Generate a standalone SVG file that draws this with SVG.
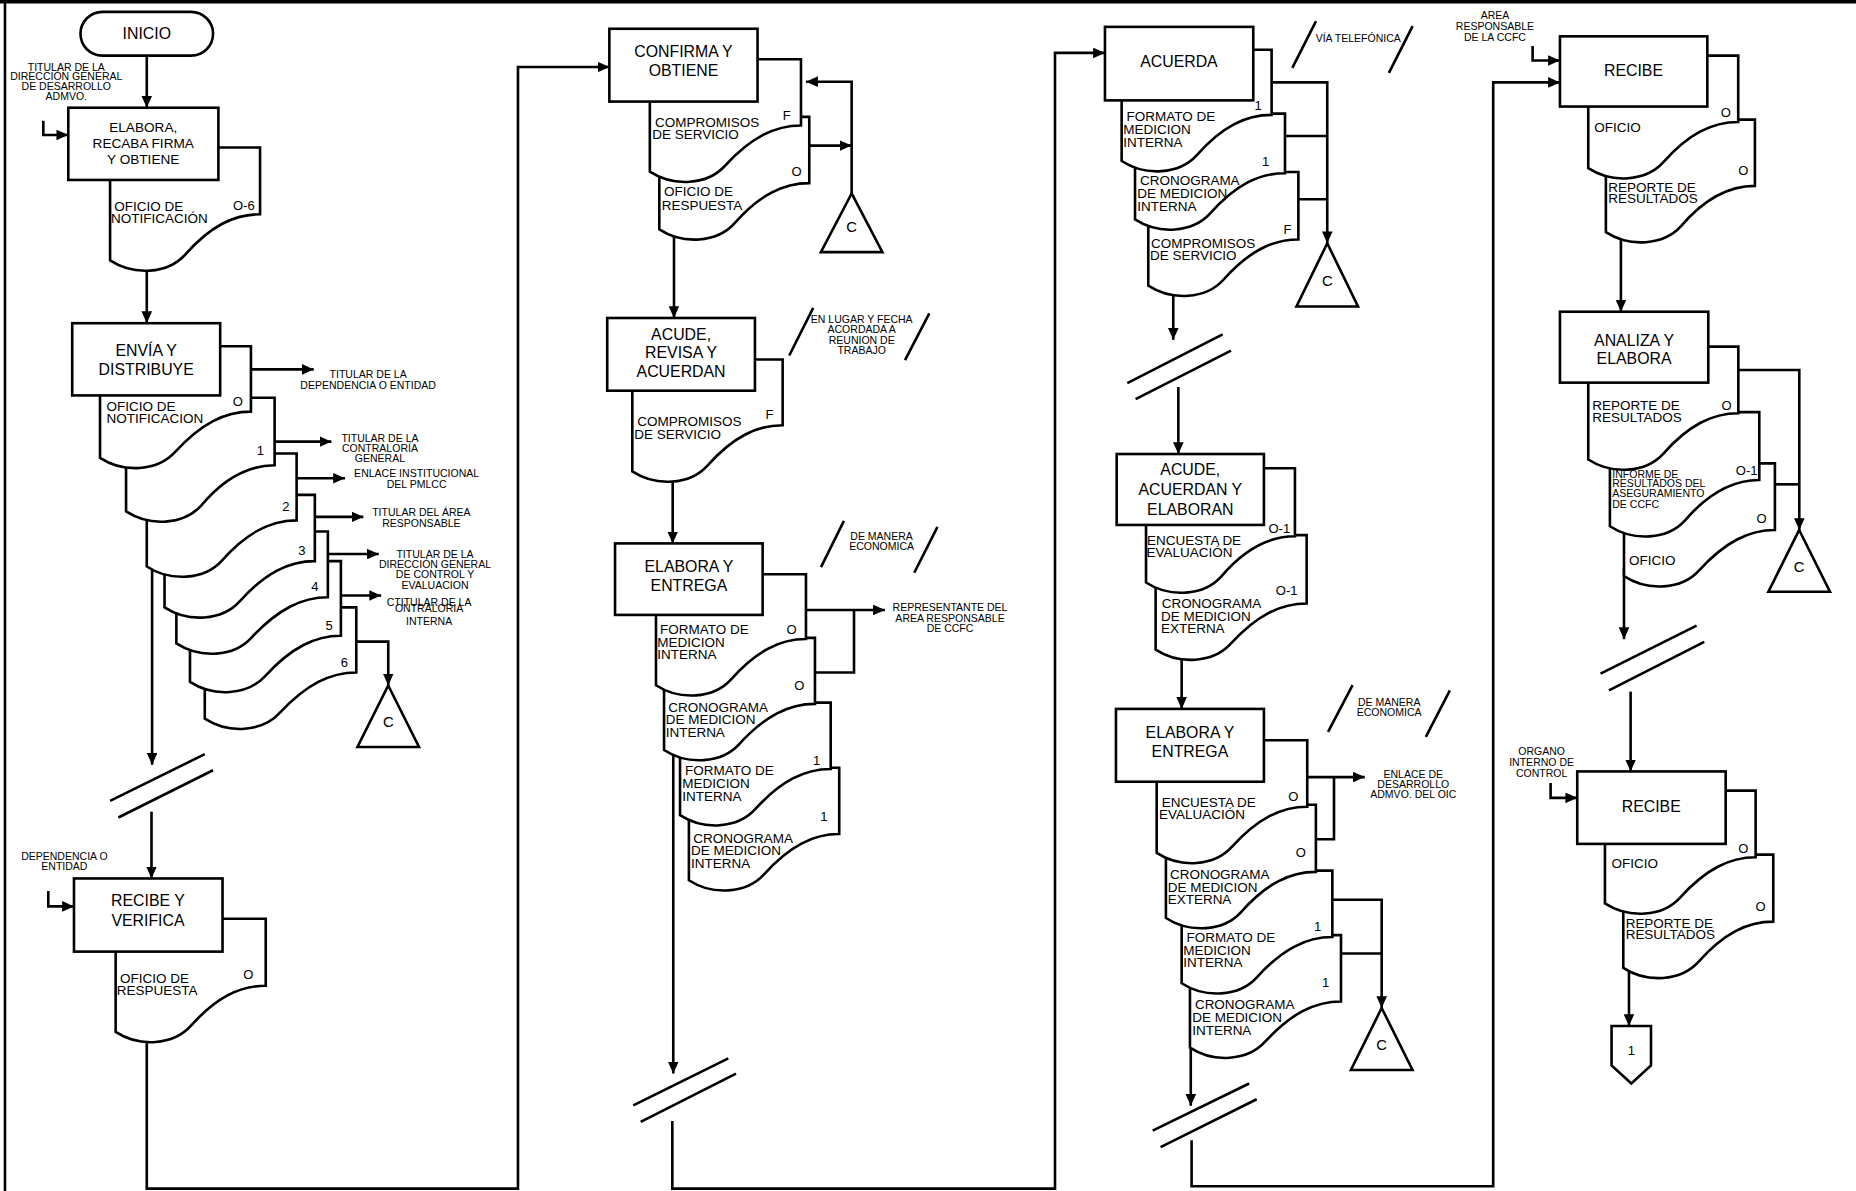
<svg xmlns="http://www.w3.org/2000/svg" width="1856" height="1191" viewBox="0 0 1856 1191">
<defs>
<style>
.ln{fill:none;stroke:#000;stroke-width:2.2}
.ar{marker-end:url(#ah)}
.bx{fill:#fff;stroke:#000;stroke-width:2.2}
.dc{fill:#fff;stroke:#000;stroke-width:2.2}
.tr{fill:#fff;stroke:#000;stroke-width:2.2}
text{font-family:"Liberation Sans",Arial,Helvetica,sans-serif;fill:#000}
.t{font-size:13.4px;text-anchor:middle}
.t2{font-size:11.5px;text-anchor:middle}
.d{font-size:11.4px}
.m{font-size:11px;text-anchor:middle}
.s{font-size:8.9px;text-anchor:middle}
.s2{font-size:8.9px}
.c{font-size:12.5px;text-anchor:middle}
</style>
<marker id="ah" viewBox="0 0 10 9" refX="10" refY="4.5" markerWidth="10" markerHeight="9" orient="auto" markerUnits="userSpaceOnUse"><path d="M0,0 L10,4.5 L0,9 z" fill="#000"/></marker>
</defs>
<rect width="1856" height="1191" fill="#fff"/>
<g transform="scale(1.18367,1.1839)">
<g id="frame">
<path class="ln" d="M0,1.5 H1568" style="stroke-width:3"/>
<path class="ln" d="M4.2,0 V1006"/>
</g>
<g id="connectors">
<path class="ln ar" d="M124,47 V91"/>
<path class="ln ar" d="M36.6,102 V114 H57.7"/>
<path class="ln ar" d="M124,222 V273"/>
<path class="ln ar" d="M212,312 H265"/>
<path class="ln ar" d="M232,373 H280"/>
<path class="ln ar" d="M250.6,404 H291.5"/>
<path class="ln ar" d="M266,436.6 H307"/>
<path class="ln ar" d="M277,468 H320"/>
<path class="ln ar" d="M288,503 H322"/>
<path class="ln ar" d="M301,542 H328 V579"/>
<path class="ln ar" d="M128.5,380 V646"/>
<path class="ln" d="M93,676.5 L173,637 M100,690.5 L180,650.6"/>
<path class="ln ar" d="M128,685.6 V742"/>
<path class="ln ar" d="M40.8,752.6 V765.6 H62.5"/>
<path class="ln ar" d="M124,865 V1004 H437.6 V56.6 H514.8"/>
<path class="ln ar" d="M683.7,123 H719.5"/>
<path class="ln ar" d="M719.5,163.4 V69 H681"/>
<path class="ln ar" d="M569.4,190 V268.6"/>
<path class="ln ar" d="M568.3,400 V459"/>
<path class="ln ar" d="M680.9,515.2 H747.6"/>
<path class="ln" d="M688.5,568 H721.5 V515.2"/>
<path class="ln ar" d="M568.8,630 V906.8"/>
<path class="ln" d="M535,933.7 L615.3,894 M541.3,947.6 L621.8,906.8"/>
<path class="ln ar" d="M568,946.8 V1004 H891.3 V44.7 H933.5"/>
<path class="ln ar" d="M1074.3,69.6 H1121.3 V205.5"/>
<path class="ln" d="M1085.6,114.9 H1121.3 M1096.9,168.3 H1121.3"/>
<path class="ln ar" d="M991.2,240 V287"/>
<path class="ln" d="M952.4,323.6 L1032.9,282.5 M959.4,337.2 L1040,296.1"/>
<path class="ln ar" d="M995.5,326.9 V383.5"/>
<path class="ln ar" d="M998.3,545 V598.8"/>
<path class="ln ar" d="M1104.4,656.4 H1153"/>
<path class="ln" d="M1111.7,708.9 H1127 V656.4"/>
<path class="ln ar" d="M1125.6,760 H1167.3 V851.4"/>
<path class="ln" d="M1132.9,805.4 H1167.3"/>
<path class="ln ar" d="M1006,880 V934"/>
<path class="ln" d="M973.8,955 L1055.3,915.2 M980.5,968.9 L1061.7,928.5"/>
<path class="ln ar" d="M1006.7,963.1 V1002 H1261.5 V69.6 H1317.9"/>
<path class="ln ar" d="M1294.8,38.8 V51.1 H1317.9"/>
<path class="ln ar" d="M1369.4,190 V263.3"/>
<path class="ln ar" d="M1468.6,312.5 H1520.1 V447.7"/>
<path class="ln" d="M1499.5,409.1 H1520.1"/>
<path class="ln ar" d="M1372,480 V539.9"/>
<path class="ln" d="M1352.2,569 L1433.3,528.5 M1359.3,583.2 L1439.8,542.1"/>
<path class="ln ar" d="M1377.6,584.2 V651.6"/>
<path class="ln ar" d="M1310,661.3 V673.9 H1332.5"/>
<path class="ln ar" d="M1376.2,810 V866.6"/>
</g>
<g id="inicio">
<rect class="bx" x="68" y="10" width="112" height="37" rx="18.5"/>
<text class="t" x="124" y="32.8">INICIO</text>
</g>
<g id="lbl-titular-dgda">
<text class="s" x="56" y="59.6">TITULAR DE LA</text>
<text class="s" x="56" y="67.7">DIRECCIÓN GENERAL</text>
<text class="s" x="56" y="75.9">DE DESARROLLO</text>
<text class="s" x="56" y="84.6">ADMVO.</text>
</g>
<g id="elabora-recaba">
<path class="dc" d="M93,124.6H219.7V181C197.7,181 177.7,191 156.5,215C141.5,231.5 113,233 93,220Z"/>
<rect class="bx" x="57.7" y="91" width="126.8" height="61"/>
<text class="t2" x="121" y="111.6">ELABORA,</text>
<text class="t2" x="121" y="125.1">RECABA FIRMA</text>
<text class="t2" x="121" y="138.6">Y OBTIENE</text>
<text class="m" x="206" y="177">O-6</text>
<text class="d" x="96.6" y="178.1">OFICIO DE</text>
<text class="d" x="93.8" y="188.1">NOTIFICACIÓN</text>
</g>
<g id="envia-distribuye">
<path class="dc" d="M173,513H301V568C279,568 259,578 236.5,602C221.5,618.5 193,620 173,607Z"/>
<path class="dc" d="M160.5,474H288V537C266,537 246,547 224,571C209,587.5 180.5,589 160.5,576Z"/>
<path class="dc" d="M149,449H277V504.5C255,504.5 235,514.5 212.5,538.5C197.5,555 169,556.5 149,543.5Z"/>
<path class="dc" d="M139,418H266V474C244,474 224,484 202.5,508C187.5,524.5 159,526 139,513Z"/>
<path class="dc" d="M124,383H250.6V439.5C228.6,439.5 208.6,449.5 187.5,473.5C172.5,490 144,491.5 124,478.5Z"/>
<path class="dc" d="M106.5,336H232V393C210,393 190,403 170,427C155,443.5 126.5,445 106.5,432Z"/>
<path class="dc" d="M84.5,292.5H212V347.7C190,347.7 170,357.7 148,381.7C133,398.2 104.5,399.7 84.5,386.7Z"/>
<rect class="bx" x="61" y="273" width="125" height="61"/>
<text class="t" x="123.5" y="300.8">ENVÍA Y</text>
<text class="t" x="123.5" y="316.8">DISTRIBUYE</text>
<text class="m" x="201" y="343">O</text>
<text class="d" x="90" y="347.1">OFICIO DE</text>
<text class="d" x="90" y="357.1">NOTIFICACION</text>
<text class="m" x="220" y="384">1</text>
<text class="m" x="241.6" y="432">2</text>
<text class="m" x="255" y="469">3</text>
<text class="m" x="266" y="499">4</text>
<text class="m" x="278" y="532">5</text>
<text class="m" x="291" y="563">6</text>
</g>
<g id="lbl-destinos">
<text class="s" x="311" y="319.2">TITULAR DE LA</text>
<text class="s" x="311" y="328.2">DEPENDENCIA O ENTIDAD</text>
<text class="s" x="321" y="373.2">TITULAR DE LA</text>
<text class="s" x="321" y="381.8">CONTRALORÍA</text>
<text class="s" x="321" y="390.2">GENERAL</text>
<text class="s" x="352" y="403.2">ENLACE INSTITUCIONAL</text>
<text class="s" x="352" y="412.2">DEL PMLCC</text>
<text class="s" x="356" y="436.2">TITULAR DEL ÁREA</text>
<text class="s" x="356" y="445.2">RESPONSABLE</text>
<text class="s" x="367.5" y="471.2">TITULAR DE LA</text>
<text class="s" x="367.5" y="479.8">DIRECCIÓN GENERAL</text>
<text class="s" x="367.5" y="488.2">DE CONTROL Y</text>
<text class="s" x="367.5" y="497.2">EVALUACION</text>
<text class="s" x="362.5" y="512">CTITULAR DE LA</text>
<text class="s" x="362.5" y="517.2">ONTRALORIA</text>
<text class="s" x="362.5" y="527.7">INTERNA</text>
</g>
<g id="archivo-c1">
<path class="tr" d="M328,579 L354,631 L302,631 Z"/>
<text class="c" x="328" y="614">C</text>
</g>
<g id="lbl-dependencia">
<text class="s" x="54.4" y="726">DEPENDENCIA O</text>
<text class="s" x="54.4" y="734.8">ENTIDAD</text>
</g>
<g id="recibe-verifica">
<path class="dc" d="M97.7,776H224.5V832.6C202.5,832.6 182.5,842.6 161.2,866.6C146.2,883.1 117.7,884.6 97.7,871.6Z"/>
<rect class="bx" x="62.5" y="742" width="125.5" height="61.8"/>
<text class="t" x="125" y="765.6">RECIBE Y</text>
<text class="t" x="125" y="781.8">VERIFICA</text>
<text class="m" x="209.8" y="827">O</text>
<text class="d" x="101.4" y="830.1">OFICIO DE</text>
<text class="d" x="98.6" y="840.8">RESPUESTA</text>
</g>
<g id="confirma-obtiene">
<path class="dc" d="M557,98.7H683.7V154.7C661.7,154.7 641.7,164.7 620.5,188.7C605.5,205.2 577,206.7 557,193.7Z"/>
<path class="dc" d="M549,50H676.7V106C654.7,106 634.7,116 612.5,140C597.5,156.5 569,158 549,145Z"/>
<rect class="bx" x="514.8" y="24.3" width="125.2" height="61.5"/>
<text class="t" x="577.4" y="48.5">CONFIRMA Y</text>
<text class="t" x="577.4" y="64">OBTIENE</text>
<text class="m" x="664.6" y="101">F</text>
<text class="d" x="553.4" y="107.1">COMPROMISOS</text>
<text class="d" x="551" y="117.4">DE SERVICIO</text>
<text class="m" x="673" y="148.7">O</text>
<text class="d" x="561" y="165.9">OFICIO DE</text>
<text class="d" x="559" y="177.1">RESPUESTA</text>
</g>
<g id="archivo-c2">
<path class="tr" d="M719.5,163.4 L745.5,213 L693.5,213 Z"/>
<text class="c" x="719.5" y="196">C</text>
</g>
<g id="acude-revisa">
<path class="dc" d="M534.2,303.6H661.2V359.2C639.2,359.2 619.2,369.2 597.7,393.2C582.7,409.7 554.2,411.2 534.2,398.2Z"/>
<rect class="bx" x="513" y="268.6" width="124.8" height="61.4"/>
<text class="t" x="575.4" y="287.3">ACUDE,</text>
<text class="t" x="575.4" y="302.5">REVISA Y</text>
<text class="t" x="575.4" y="318.1">ACUERDAN</text>
<text class="m" x="650" y="354">F</text>
<text class="d" x="538.4" y="360.1">COMPROMISOS</text>
<text class="d" x="535.9" y="370.4">DE SERVICIO</text>
</g>
<g id="nota-lugar">
<path class="ln" d="M666.8,300.3 L687,260 M764.6,304.2 L785.1,264.7"/>
<text class="s" x="728" y="272.8">EN LUGAR Y FECHA</text>
<text class="s" x="728" y="281.5">ACORDADA A</text>
<text class="s" x="728" y="290.2">REUNION DE</text>
<text class="s" x="728" y="299.2">TRABAJO</text>
</g>
<g id="nota-economica-1">
<path class="ln" d="M693.6,479 L713,440 M772.4,483.8 L792,445"/>
<text class="s" x="744.8" y="456.2">DE MANERA</text>
<text class="s" x="744.8" y="464.4">ECONOMICA</text>
</g>
<g id="elabora-entrega-1">
<path class="dc" d="M582,648.5H709V704.5C687,704.5 667,714.5 645.5,738.5C630.5,755 602,756.5 582,743.5Z"/>
<path class="dc" d="M574.5,593.5H701.8V649.5C679.8,649.5 659.8,659.5 638,683.5C623,700 594.5,701.5 574.5,688.5Z"/>
<path class="dc" d="M561,538.8H688.5V594.5C666.5,594.5 646.5,604.5 624.5,628.5C609.5,645 581,646.5 561,633.5Z"/>
<path class="dc" d="M554.2,485H680.9V539.8C658.9,539.8 638.9,549.8 617.7,573.8C602.7,590.3 574.2,591.8 554.2,578.8Z"/>
<rect class="bx" x="519.6" y="459" width="124.7" height="60.4"/>
<text class="t" x="582" y="482.8">ELABORA Y</text>
<text class="t" x="582" y="499">ENTREGA</text>
<text class="m" x="668.8" y="535.4">O</text>
<text class="d" x="557.6" y="535.5">FORMATO DE</text>
<text class="d" x="555.3" y="546.1">MEDICION</text>
<text class="d" x="555.3" y="556.6">INTERNA</text>
<text class="m" x="675.2" y="582.7">O</text>
<text class="d" x="564.6" y="601.2">CRONOGRAMA</text>
<text class="d" x="562.4" y="611.9">DE MEDICION</text>
<text class="d" x="562.4" y="622.2">INTERNA</text>
<text class="m" x="690" y="645.8">1</text>
<text class="d" x="578.7" y="654.6">FORMATO DE</text>
<text class="d" x="576.5" y="665.3">MEDICION</text>
<text class="d" x="576.5" y="676.3">INTERNA</text>
<text class="m" x="696" y="693.3">1</text>
<text class="d" x="585.7" y="711.9">CRONOGRAMA</text>
<text class="d" x="583.8" y="722.6">DE MEDICION</text>
<text class="d" x="583.8" y="732.9">INTERNA</text>
</g>
<g id="lbl-representante">
<text class="s" x="802.6" y="516.2">REPRESENTANTE DEL</text>
<text class="s" x="802.6" y="525.2">AREA RESPONSABLE</text>
<text class="s" x="802.6" y="534">DE CCFC</text>
</g>
<g id="acuerda">
<path class="dc" d="M970.1,145.3H1096.9V202.3C1074.9,202.3 1054.9,212.3 1033.6,236.3C1018.6,252.8 990.1,254.3 970.1,241.3Z"/>
<path class="dc" d="M958.9,96H1085.6V146.3C1063.6,146.3 1043.6,156.3 1022.4,180.3C1007.4,196.8 978.9,198.3 958.9,185.3Z"/>
<path class="dc" d="M947.6,42H1074.3V97C1052.3,97 1032.3,107 1011.1,131C996.1,147.5 967.6,149 947.6,136Z"/>
<rect class="bx" x="933.5" y="22.7" width="125.3" height="62.1"/>
<text class="t" x="996" y="56.6">ACUERDA</text>
<text class="m" x="1063" y="93">1</text>
<text class="d" x="951.8" y="102.1">FORMATO DE</text>
<text class="d" x="949" y="113.1">MEDICION</text>
<text class="d" x="949" y="123.8">INTERNA</text>
<text class="m" x="1069.2" y="140.6">1</text>
<text class="d" x="963.1" y="156.1">CRONOGRAMA</text>
<text class="d" x="960.8" y="167.5">DE MEDICION</text>
<text class="d" x="960.8" y="177.9">INTERNA</text>
<text class="m" x="1087.6" y="197.5">F</text>
<text class="d" x="972.4" y="209.6">COMPROMISOS</text>
<text class="d" x="971.5" y="219.3">DE SERVICIO</text>
</g>
<g id="nota-telefonica">
<path class="ln" d="M1091.8,57.3 L1111.8,17.8 M1173.4,61.5 L1193.4,22"/>
<text class="s" x="1147.5" y="35.6">VÍA TELEFÓNICA</text>
</g>
<g id="archivo-c3">
<path class="tr" d="M1121.3,205.5 L1147.3,258.9 L1095.3,258.9 Z"/>
<text class="c" x="1121.3" y="241.9">C</text>
</g>
<g id="acude-acuerdan">
<path class="dc" d="M976.3,452H1103.9V509.7C1081.9,509.7 1061.9,519.7 1039.8,543.7C1024.8,560.2 996.3,561.7 976.3,548.7Z"/>
<path class="dc" d="M968.2,395.5H1094V453C1072,453 1052,463 1031.7,487C1016.7,503.5 988.2,505 968.2,492Z"/>
<rect class="bx" x="943.4" y="383.5" width="124.4" height="59.9"/>
<text class="t" x="1005.6" y="401.2">ACUDE,</text>
<text class="t" x="1005.6" y="418.4">ACUERDAN Y</text>
<text class="t" x="1005.6" y="435.2">ELABORAN</text>
<text class="m" x="1080.8" y="450">O-1</text>
<text class="d" x="969" y="460.4">ENCUESTA DE</text>
<text class="d" x="968.7" y="470.1">EVALUACIÓN</text>
<text class="m" x="1087" y="502.4">O-1</text>
<text class="d" x="981.4" y="513.8">CRONOGRAMA</text>
<text class="d" x="980.8" y="524.5">DE MEDICION</text>
<text class="d" x="980.8" y="534.9">EXTERNA</text>
</g>
<g id="nota-economica-2">
<path class="ln" d="M1122,618.2 L1142.7,578.7 M1204.6,622.4 L1224.9,583.2"/>
<text class="s" x="1173.6" y="596.5">DE MANERA</text>
<text class="s" x="1173.6" y="605.2">ECONOMICA</text>
</g>
<g id="elabora-entrega-2">
<path class="dc" d="M1005.3,789.9H1132.9V845.9C1110.9,845.9 1090.9,855.9 1068.8,879.9C1053.8,896.4 1025.3,897.9 1005.3,884.9Z"/>
<path class="dc" d="M998.3,735.4H1125.6V791.5C1103.6,791.5 1083.6,801.5 1061.8,825.5C1046.8,842 1018.3,843.5 998.3,830.5Z"/>
<path class="dc" d="M985,679.7H1111.7V736.4C1089.7,736.4 1069.7,746.4 1048.5,770.4C1033.5,786.9 1005,788.4 985,775.4Z"/>
<path class="dc" d="M977.2,625.3H1104.4V681.4C1082.4,681.4 1062.4,691.4 1040.7,715.4C1025.7,731.9 997.2,733.4 977.2,720.4Z"/>
<rect class="bx" x="942.8" y="598.8" width="125" height="61.5"/>
<text class="t" x="1005.3" y="623.7">ELABORA Y</text>
<text class="t" x="1005.3" y="639.8">ENTREGA</text>
<text class="m" x="1092.6" y="676.6">O</text>
<text class="d" x="981.4" y="681.6">ENCUESTA DE</text>
<text class="d" x="979.2" y="691.9">EVALUACIÓN</text>
<text class="m" x="1099" y="724.2">O</text>
<text class="d" x="988.4" y="742.8">CRONOGRAMA</text>
<text class="d" x="986.5" y="753.5">DE MEDICION</text>
<text class="d" x="986.5" y="763.5">EXTERNA</text>
<text class="m" x="1113.2" y="786.7">1</text>
<text class="d" x="1002.5" y="795.6">FORMATO DE</text>
<text class="d" x="999.7" y="806.3">MEDICION</text>
<text class="d" x="999.7" y="816.6">INTERNA</text>
<text class="m" x="1120" y="833.7">1</text>
<text class="d" x="1009.5" y="852.2">CRONOGRAMA</text>
<text class="d" x="1007.2" y="862.9">DE MEDICION</text>
<text class="d" x="1007.2" y="874.3">INTERNA</text>
</g>
<g id="lbl-enlace">
<text class="s" x="1194" y="657">ENLACE DE</text>
<text class="s" x="1194" y="665.8">DESARROLLO</text>
<text class="s" x="1194" y="674.2">ADMVO. DEL OIC</text>
</g>
<g id="archivo-c4">
<path class="tr" d="M1167.3,851.4 L1193.3,903.8 L1141.3,903.8 Z"/>
<text class="c" x="1167.3" y="886.8">C</text>
</g>
<g id="lbl-area-ccfc">
<text class="s" x="1263" y="16.1">AREA</text>
<text class="s" x="1263" y="25.2">RESPONSABLE</text>
<text class="s" x="1263" y="34.6">DE LA CCFC</text>
</g>
<g id="recibe-1">
<path class="dc" d="M1356.7,101H1482.6V157C1460.6,157 1440.6,167 1420.2,191C1405.2,207.5 1376.7,209 1356.7,196Z"/>
<path class="dc" d="M1341.8,47H1468.5V103C1446.5,103 1426.5,113 1405.3,137C1390.3,153.5 1361.8,155 1341.8,142Z"/>
<rect class="bx" x="1317.9" y="30.7" width="124.5" height="59.3"/>
<text class="t" x="1380" y="64">RECIBE</text>
<text class="m" x="1458.1" y="98.8">O</text>
<text class="d" x="1346.9" y="111.5">OFICIO</text>
<text class="m" x="1472.8" y="148">O</text>
<text class="d" x="1358.7" y="162.1">REPORTE DE</text>
<text class="d" x="1358.7" y="171.7">RESULTADOS</text>
</g>
<g id="analiza-elabora">
<path class="dc" d="M1372,391.4H1499.5V447.7C1477.5,447.7 1457.5,457.7 1435.5,481.7C1420.5,498.2 1392,499.7 1372,486.7Z"/>
<path class="dc" d="M1360.1,348.1H1486.3V405.5C1464.3,405.5 1444.3,415.5 1423.6,439.5C1408.6,456 1380.1,457.5 1360.1,444.5Z"/>
<path class="dc" d="M1341.8,292.8H1468.6V349.1C1446.6,349.1 1426.6,359.1 1405.3,383.1C1390.3,399.6 1361.8,401.1 1341.8,388.1Z"/>
<rect class="bx" x="1317.9" y="263.3" width="125.3" height="59.9"/>
<text class="t" x="1380.5" y="292.6">ANALIZA Y</text>
<text class="t" x="1380.5" y="307.5">ELABORA</text>
<text class="m" x="1458.7" y="346.1">O</text>
<text class="d" x="1345.2" y="346.2">REPORTE DE</text>
<text class="d" x="1345.2" y="356.6">RESULTADOS</text>
<text class="m" x="1475.6" y="401.6">O-1</text>
<text class="s2" x="1362.1" y="403.7">INFORME DE</text>
<text class="s2" x="1362.1" y="411.7">RESULTADOS DEL</text>
<text class="s2" x="1362.1" y="420.2">ASEGURAMIENTO</text>
<text class="s2" x="1362.1" y="428.7">DE CCFC</text>
<text class="m" x="1488.3" y="441.9">O</text>
<text class="d" x="1376.2" y="477.1">OFICIO</text>
</g>
<g id="archivo-c5">
<path class="tr" d="M1520,447.7 L1546,499.8 L1494,499.8 Z"/>
<text class="c" x="1520" y="482.8">C</text>
</g>
<g id="lbl-organo">
<text class="s" x="1302.4" y="637.6">ORGANO</text>
<text class="s" x="1302.4" y="646.7">INTERNO DE</text>
<text class="s" x="1302.4" y="656.1">CONTROL</text>
</g>
<g id="recibe-2">
<path class="dc" d="M1371.4,721.9H1498.1V778.5C1476.1,778.5 1456.1,788.5 1434.9,812.5C1419.9,829 1391.4,830.5 1371.4,817.5Z"/>
<path class="dc" d="M1355.9,667.8H1483.2V724.1C1461.2,724.1 1441.2,734.1 1419.4,758.1C1404.4,774.6 1375.9,776.1 1355.9,763.1Z"/>
<rect class="bx" x="1332.5" y="651.6" width="125.4" height="61.2"/>
<text class="t" x="1395" y="685.5">RECIBE</text>
<text class="m" x="1472.8" y="720.3">O</text>
<text class="d" x="1361.5" y="733.4">OFICIO</text>
<text class="m" x="1487.4" y="769.6">O</text>
<text class="d" x="1373.4" y="783.6">REPORTE DE</text>
<text class="d" x="1373.4" y="793.3">RESULTADOS</text>
</g>
<g id="conector-1">
<path class="bx" d="M1361.5,866.6 H1394.8 V900 L1378.2,915.2 L1361.5,900 Z"/>
<text class="m" x="1378.2" y="891">1</text>
</g>
</g>
</svg>
